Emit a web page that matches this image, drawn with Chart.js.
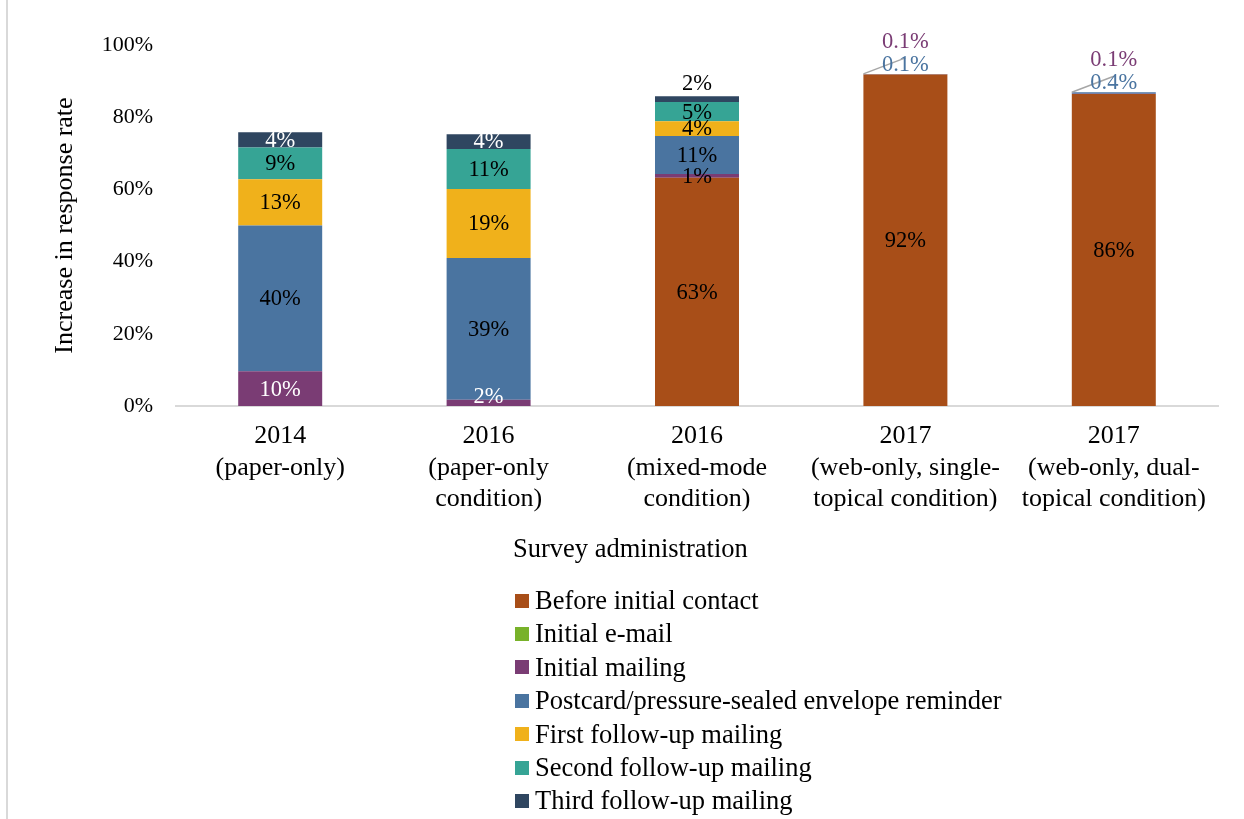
<!DOCTYPE html>
<html>
<head>
<meta charset="utf-8">
<script src="https://cdn.jsdelivr.net/npm/chart.js@4.4.0/dist/chart.umd.min.js"></script>
<style>
  body { margin: 0; background: #fff; }
  #wrap { position: relative; width: 1244px; height: 819px; overflow: hidden; }
  #chart { display: block; }
  #edge { position: absolute; left: 6px; top: 0; width: 2px; height: 819px; background: #d9d9d9; }
  .serif { font-family: "Liberation Serif", "Times New Roman", serif; color: #000; }
  #xTitle { position: absolute; left: 513px; top: 533px; font-size: 26.5px; line-height: 30px; white-space: nowrap; }
  #legend { position: absolute; left: 515px; top: 584px; font-size: 26.5px; }
  .item { height: 33.4px; line-height: 33.4px; white-space: nowrap; display: flex; align-items: center; }
  .sw { width: 14px; height: 14px; margin-right: 6px; flex: none; }
</style>
</head>
<body>
<div id="wrap">
  <canvas id="chart" width="1244" height="819"></canvas>
  <div id="edge"></div>
  <div id="xTitle" class="serif">Survey administration</div>
  <div id="legend" class="serif"></div>
</div>
<script>
const categories = [
  ["2014", "(paper-only)"],
  ["2016", "(paper-only", "condition)"],
  ["2016", "(mixed-mode", "condition)"],
  ["2017", "(web-only, single-", "topical condition)"],
  ["2017", "(web-only, dual-", "topical condition)"]
];

// percent increase in response rate, per contact stage
const beforeInitial  = [0, 0, 63.2, 91.8, 86.4];
const initialEmail   = [0, 0, 0, 0, 0];
const initialMailing = [9.6, 1.7, 1.1, 0.1, 0.1];
const postcard       = [40.4, 39.3, 10.5, 0.1, 0.4];
const firstFollowUp  = [12.8, 19.1, 4.1, 0, 0];
const secondFollowUp = [8.8, 11.1, 5.3, 0, 0];
const thirdFollowUp  = [4.2, 4.1, 1.6, 0, 0];

const yTicks = [0, 20, 40, 60, 80, 100];

const FONT = '"Liberation Serif", "Times New Roman", serif';
Chart.defaults.font.family = FONT;
Chart.defaults.color = "#000";

// bars whose inside labels are all dark
const darkLabelBars = [2];

const series = [
  { label: "Before initial contact", data: beforeInitial, color: "#a84e18", text: "#000" },
  { label: "Initial e-mail", data: initialEmail, color: "#78b22a", text: "#000" },
  { label: "Initial mailing", data: initialMailing, color: "#7a3c74", text: "#fff" },
  { label: "Postcard/pressure-sealed envelope reminder", data: postcard, color: "#4a74a0", text: "#000" },
  { label: "First follow-up mailing", data: firstFollowUp, color: "#f0b11b", text: "#000" },
  { label: "Second follow-up mailing", data: secondFollowUp, color: "#36a495", text: "#000" },
  { label: "Third follow-up mailing", data: thirdFollowUp, color: "#2f4660", text: "#fff" }
];

function fmt(v) {
  return v < 1 ? v.toFixed(1) + "%" : Math.round(v) + "%";
}

// labels on the segments, small ones go above the stack
const segmentLabels = {
  id: "segmentLabels",
  afterDatasetsDraw(chart) {
    const ctx = chart.ctx;
    const sets = chart.data.datasets;
    const bottom = chart.chartArea.bottom;
    ctx.save();
    ctx.font = "22.5px " + FONT;
    ctx.textAlign = "center";
    ctx.textBaseline = "middle";
    for (let i = 0; i < chart.data.labels.length; i++) {
      let topIdx = -1;
      let stackTop = bottom;
      sets.forEach((ds, d) => {
        if (ds.data[i] > 0) {
          topIdx = d;
          stackTop = Math.min(stackTop, chart.getDatasetMeta(d).data[i].y);
        }
      });
      let k = 0;
      for (let d = sets.length - 1; d >= 0; d--) {
        const v = sets[d].data[i];
        if (!v) continue;
        const bar = chart.getDatasetMeta(d).data[i];
        if (v < 1) {
          if (k === 0) {
            ctx.strokeStyle = "#a6a6a6";
            ctx.lineWidth = 1.5;
            ctx.beginPath();
            ctx.moveTo(bar.x - bar.width / 2, stackTop);
            ctx.lineTo(bar.x, stackTop - 16);
            ctx.stroke();
          }
          ctx.fillStyle = series[d].color;
          ctx.fillText(fmt(v), bar.x, stackTop - 9 - 23 * k);
          k++;
        } else if (d === topIdx && v < 2) {
          ctx.fillStyle = "#000";
          ctx.fillText(fmt(v), bar.x, stackTop - 12);
        } else {
          let y = (bar.y + bar.base) / 2;
          if (bar.base >= bottom - 1) y = Math.min(y, bar.base - 10);
          ctx.fillStyle = darkLabelBars.includes(i) ? "#000" : series[d].text;
          ctx.fillText(fmt(v), bar.x, y + 1);
        }
      }
    }
    ctx.restore();
  }
};

const chart = new Chart(document.getElementById("chart"), {
  type: "bar",
  data: {
    labels: categories,
    datasets: series.map(s => ({
      label: s.label,
      data: s.data,
      backgroundColor: s.color,
      borderWidth: 0,
      categoryPercentage: 1,
      barPercentage: 0.403
    }))
  },
  options: {
    responsive: false,
    animation: false,
    layout: { padding: { left: 46, right: 26, top: 45, bottom: 303 } },
    plugins: { legend: { display: false }, tooltip: { enabled: false } },
    scales: {
      x: {
        stacked: true,
        grid: { display: false, drawTicks: false },
        border: { display: true, color: "#d9d9d9", width: 2 },
        ticks: { font: { size: 26 }, padding: 15, maxRotation: 0, autoSkip: false },
        afterFit: s => { s.height = 110; }
      },
      y: {
        stacked: true,
        min: 0,
        max: 100,
        grid: { display: false, drawTicks: false },
        border: { display: false },
        afterBuildTicks: s => { s.ticks = yTicks.map(v => ({ value: v })); },
        ticks: { font: { size: 22 }, padding: 23, callback: v => v + "%" },
        title: { display: true, text: "Increase in response rate", font: { size: 26 }, padding: 4 },
        afterFit: s => { s.width = 130; }
      }
    }
  },
  plugins: [segmentLabels]
});

// legend built from the datasets
const legend = document.getElementById("legend");
chart.data.datasets.forEach(ds => {
  const row = document.createElement("div");
  row.className = "item";
  const sw = document.createElement("span");
  sw.className = "sw";
  sw.style.background = ds.backgroundColor;
  row.appendChild(sw);
  row.appendChild(document.createTextNode(ds.label));
  legend.appendChild(row);
});
</script>
</body>
</html>
